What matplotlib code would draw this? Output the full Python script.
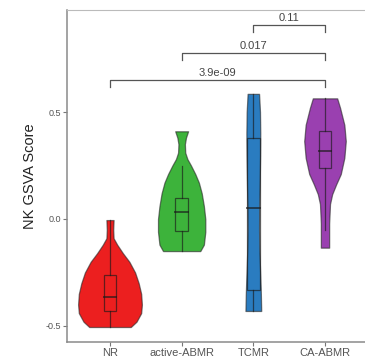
import numpy as np
import matplotlib
matplotlib.use("Agg")
import matplotlib.pyplot as plt

plt.rcParams['font.family'] = ['Liberation Sans', 'DejaVu Sans']

categories = ["NR", "active-ABMR", "TCMR", "CA-ABMR"]
colors = ["#EC1F1F", "#3DB33B", "#2A7CC0", "#9A40B0"]

# violin profiles: (y value, half width in category units)
nr_y = [-0.505, -0.48, -0.44, -0.40, -0.35, -0.30, -0.25, -0.20, -0.16, -0.12, -0.09, -0.05, -0.005]
nr_w = [0.29, 0.37, 0.435, 0.445, 0.435, 0.40, 0.35, 0.27, 0.18, 0.10, 0.05, 0.045, 0.05]
ab_y = [-0.15, -0.12, -0.06, 0.00, 0.06, 0.12, 0.17, 0.21, 0.25, 0.28, 0.31, 0.35, 0.38, 0.41]
ab_w = [0.26, 0.31, 0.33, 0.33, 0.31, 0.28, 0.24, 0.19, 0.13, 0.08, 0.05, 0.045, 0.06, 0.09]
tc_y = [-0.43, -0.35, -0.25, -0.15, -0.05, 0.05, 0.15, 0.30, 0.40, 0.50, 0.585]
tc_w = [0.11, 0.105, 0.095, 0.085, 0.08, 0.082, 0.088, 0.095, 0.097, 0.093, 0.08]
ca_y = [-0.134, -0.02, 0.07, 0.116, 0.163, 0.21, 0.286, 0.364, 0.44, 0.52, 0.564]
ca_w = [0.058, 0.058, 0.07, 0.10, 0.157, 0.22, 0.27, 0.29, 0.27, 0.21, 0.17]
profiles = [(nr_y, nr_w), (ab_y, ab_w), (tc_y, tc_w), (ca_y, ca_w)]

# box stats: lower whisker, Q1, median, Q3, upper whisker
box_low = [-0.505, -0.15, -0.43, -0.05]
box_q1 = [-0.43, -0.055, -0.33, 0.237]
box_med = [-0.365, 0.034, 0.05, 0.32]
box_q3 = [-0.26, 0.10, 0.38, 0.411]
box_high = [-0.005, 0.25, 0.585, 0.564]

# comparisons: (group a, group b, label)
comparisons = [(0, 3, "3.9e-09"), (1, 3, "0.017"), (2, 3, "0.11")]
bracket_y = [0.65, 0.776, 0.907]

fig = plt.figure(figsize=(3.65, 3.58), dpi=100)
ax = fig.add_axes([67/365, 16/358, 301/365, 332/358])

box_w = 0.18
for i, (py, pw) in enumerate(profiles):
    x = i + 1
    py = np.array(py); pw = np.array(pw)
    ax.fill_betweenx(py, x - pw, x + pw, facecolor=colors[i],
                     edgecolor=(0.15, 0.15, 0.15, 0.6), linewidth=0.9, zorder=2)
    lc = (0.1, 0.1, 0.1, 0.65)
    ax.plot([x, x], [box_low[i], box_q1[i]], color=lc, lw=0.9, zorder=3)
    ax.plot([x, x], [box_q3[i], box_high[i]], color=lc, lw=0.9, zorder=3)
    ax.add_patch(plt.Rectangle((x - box_w/2, box_q1[i]), box_w, box_q3[i] - box_q1[i],
                               fill=False, edgecolor=lc, lw=0.9, zorder=3))
    ax.plot([x - box_w/2, x + box_w/2], [box_med[i]]*2, color=lc, lw=1.4, zorder=3)

tick_len = 0.035
for (a, b, lab), by in zip(comparisons, bracket_y):
    xa, xb = a + 1, b + 1
    ax.plot([xa, xa, xb, xb], [by - tick_len, by, by, by - tick_len],
            color="#555555", lw=0.9, zorder=3)
    ax.text((xa + xb) / 2, by + 0.01, lab, ha="center", va="bottom",
            fontsize=8, color="#444444")

ax.set_xlim(0.4, 4.6)
ax.set_ylim(-0.575, 0.977)
ax.set_xticks(range(1, 5))
ax.set_xticklabels(categories, fontsize=8, color="#555555")
ax.set_yticks([-0.5, 0.0, 0.5])
ax.set_yticklabels(["-0.5", "0.0", "0.5"], fontsize=6.5, color="#555555")
ax.tick_params(axis="both", length=3, width=0.8, color="#777777", pad=1.5)
ax.set_ylabel("NK GSVA Score", fontsize=10.5, color="#222222", labelpad=6)
for s in ["left", "bottom"]:
    ax.spines[s].set_color("#8a8a8a"); ax.spines[s].set_linewidth(1.1)
for s in ["top", "right"]:
    ax.spines[s].set_color("#bbbbbb"); ax.spines[s].set_linewidth(0.8)

fig.savefig("out.png", dpi=100)
